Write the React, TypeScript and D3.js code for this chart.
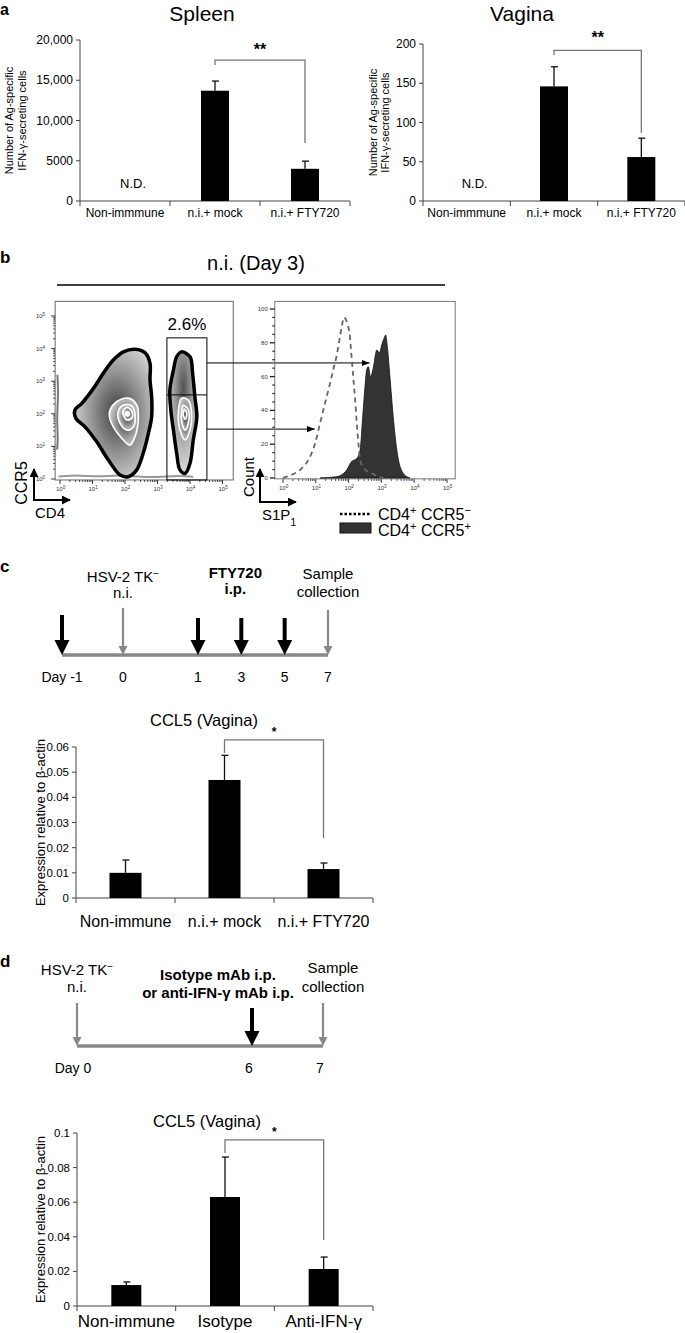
import React from 'react';
import * as d3 from 'd3';

const SANS = "'Liberation Sans', Arial, Helvetica, sans-serif";
const NARROW = "'Liberation Sans Narrow', 'Arial Narrow', 'Liberation Sans', sans-serif";

// ---- a: ELISPOT
const groupsA = ['Non-immmune', 'n.i.+ mock', 'n.i.+ FTY720'];
const notDetected = [true, false, false];
const spleenMean = [0, 13700, 4000];
const spleenSem = [0, 1200, 950];
const spleenTicks = [0, 5000, 10000, 15000, 20000];
const spleenBracket = [17500, 16900, 7200]; // bar level, left leg end, right leg end
const vaginaMean = [0, 146, 56];
const vaginaSem = [0, 25, 24];
const vaginaTicks = [0, 50, 100, 150, 200];
const vaginaBracket = [192, 186, 87];

// ---- b: flow (log10 units)
const cd4NegOuter: [number, number][] = [[0.46, 2.12], [0.67, 2.32], [1.03, 2.78], [1.33, 3.24], [1.64, 3.65], [1.95, 3.9], [2.31, 3.98], [2.62, 3.87], [2.77, 3.55], [2.77, 3.04], [2.82, 2.52], [2.82, 1.91], [2.72, 1.4], [2.56, 0.79], [2.36, 0.28], [2.1, 0.07], [1.85, 0.12], [1.49, 0.58], [1.13, 1.14], [0.77, 1.6], [0.49, 1.86]];
const cd4NegL2: [number, number][] = [[1.54, 2.12], [1.74, 2.37], [2.1, 2.48], [2.36, 2.27], [2.41, 1.86], [2.31, 1.3], [2.15, 1.04], [1.9, 1.25], [1.64, 1.6], [1.52, 1.91]];
const cd4NegL3: [number, number][] = [[1.79, 2.06], [1.95, 2.27], [2.21, 2.24], [2.31, 1.96], [2.26, 1.6], [2.07, 1.5], [1.85, 1.71]];
const cd4NegL4: [number, number][] = [[1.93, 2.06], [2.07, 2.2], [2.22, 2.06], [2.21, 1.86], [2.05, 1.81]];
const cd4PosOuter: [number, number][] = [[3.74, 3.9], [4.0, 3.75], [4.08, 3.24], [4.15, 2.52], [4.21, 1.91], [4.1, 1.2], [4.0, 0.48], [3.85, 0.17], [3.69, 0.28], [3.59, 0.79], [3.49, 1.5], [3.41, 2.12], [3.38, 2.73], [3.49, 3.34], [3.59, 3.75]];
const cd4PosL2: [number, number][] = [[3.74, 2.48], [3.95, 2.42], [4.05, 2.02], [4.0, 1.5], [3.85, 1.2], [3.69, 1.5], [3.64, 2.02]];
const cd4PosL3: [number, number][] = [[3.79, 2.27], [3.95, 2.12], [3.95, 1.71], [3.85, 1.5], [3.74, 1.76], [3.74, 2.06]];
const cd4PosL4: [number, number][] = [[3.83, 2.14], [3.9, 2.02], [3.86, 1.83], [3.79, 1.96]];
const cd4NegPeak: [number, number] = [2.07, 2.0];
const axisEventsBottom: [number, number][] = [[-0.05, 0.08], [0.6, 0.12], [1.2, 0.06], [1.8, 0.13], [2.4, 0.07], [3.0, 0.05], [3.6, 0.11], [4.1, 0.07]];
const axisEventsLeft: [number, number][] = [[-0.08, 3.2], [-0.05, 2.6], [-0.1, 1.9], [-0.06, 1.2], [-0.09, 0.9]];
const gateCD4 = [3.29, 4.52];
const gateCCR5 = [0, 4.33];
const ccr5Split = 2.58;
const arrowFrom = [3.56, 1.53]; // CCR5 level (log) at the gate edge
const arrowTo = [2.64, 0.97]; // S1P1 level (log) in the histogram
const gatePct = '2.6%';
const decades = [0, 1, 2, 3, 4, 5];

const s1p1Neg: [number, number][] = [[0.0, 0], [0.11, 0.8], [0.57, 5.7], [0.77, 10.6], [0.98, 20.5], [1.13, 32.4], [1.28, 44.2], [1.41, 54], [1.53, 63.9], [1.64, 72.8], [1.72, 81.7], [1.79, 89.5], [1.86, 95], [1.96, 91.5], [2.04, 83.6], [2.09, 71.8], [2.14, 59.9], [2.2, 46.2], [2.25, 32.4], [2.3, 20.5], [2.35, 10.6], [2.47, 5.7], [2.7, 2.8], [3.06, 0]];
const s1p1Pos: [number, number][] = [[1.13, 0], [1.64, 0.8], [1.94, 4.7], [2.09, 9.7], [2.25, 11.6], [2.35, 16.6], [2.43, 36.3], [2.5, 54], [2.55, 63.9], [2.6, 65.9], [2.67, 59.9], [2.75, 64.9], [2.86, 75.7], [2.94, 74.1], [3.01, 78.7], [3.08, 82.6], [3.13, 84.6], [3.18, 77.7], [3.26, 59.9], [3.36, 36.3], [3.47, 16.6], [3.57, 6.7], [3.77, 0.8], [3.87, 0]];
const countTicks = [0, 20, 40, 60, 80, 100];

// ---- c: FTY720
const groupsC = ['Non-immune', 'n.i.+ mock', 'n.i.+ FTY720'];
const ccl5FtyMean = [0.01, 0.0469, 0.0115];
const ccl5FtySem = [0.0051, 0.0098, 0.0024];
const ccl5FtyTicks = [0, 0.01, 0.02, 0.03, 0.04, 0.05, 0.06];
const ccl5FtyBracket = [0.0628, 0.0576, 0.0238];
const daysC = [-1, 0, 1, 3, 5, 7];
const dayLabelsC = ['Day -1', '0', '1', '3', '5', '7'];
const ftyDays = [-1, 1, 3, 5];
const greyDaysC = [0, 7];

// ---- d: anti-IFN-g
const groupsD = ['Non-immune', 'Isotype', 'Anti-IFN-γ'];
const ccl5IfnMean = [0.0121, 0.063, 0.0214];
const ccl5IfnSem = [0.0018, 0.0231, 0.0069];
const ccl5IfnTicks = [0, 0.02, 0.04, 0.06, 0.08, 0.1];
const ccl5IfnBracket = [0.096, 0.0884, 0.0381];
const daysD = [0, 6, 7];
const dayLabelsD = ['Day 0', '6', '7'];
const mabDays = [6];
const greyDaysD = [0, 7];

interface BarProps {
  groups: string[];
  means: number[];
  sems: number[];
  ticks: number[];
  max: number;
  fmt: (v: number) => string;
  x0: number; x1: number; yTop: number; yBottom: number;
  barW: number;
  nd?: boolean[];
  title: string; titleX: number; titleY: number; titleSize: number;
  yLabel: string[]; yLabelX: number[]; yLabelSize: number;
  tickSize: number; tickFont: string;
  catSize: number; catY: number; catFont: string;
  bracket: number[]; mark: string; markSize: number; markDy: number;
}

function BarChart(p: BarProps) {
  const x = d3.scaleBand<string>().domain(p.groups).range([p.x0, p.x1]);
  const y = d3.scaleLinear().domain([0, p.max]).range([p.yBottom, p.yTop]);
  const cx = (i: number) => (x(p.groups[i]) ?? 0) + x.bandwidth() / 2;
  const [lvl, lEnd, rEnd] = p.bracket;
  const yMid = (p.yTop + p.yBottom) / 2;
  const edges = [...p.groups.map((g) => x(g) ?? 0), p.x1];
  return (
    <g>
      <text x={p.titleX} y={p.titleY} textAnchor="middle" fontSize={p.titleSize}>{p.title}</text>
      {p.yLabel.map((l, i) => (
        <text key={l} transform={`translate(${p.yLabelX[i]},${yMid}) rotate(-90)`} textAnchor="middle" dy="0.35em" fontSize={p.yLabelSize}>{l}</text>
      ))}
      <line x1={p.x0} x2={p.x0} y1={y(0)} y2={y(p.max)} stroke="#444" />
      {p.ticks.map((t) => (
        <g key={t}>
          <line x1={p.x0 - 4} x2={p.x0} y1={y(t)} y2={y(t)} stroke="#444" />
          <text x={p.x0 - 7} y={y(t)} dy="0.35em" textAnchor="end" fontSize={p.tickSize} fontFamily={p.tickFont}>{p.fmt(t)}</text>
        </g>
      ))}
      <line x1={p.x0} x2={p.x1} y1={y(0)} y2={y(0)} stroke="#444" />
      {edges.map((e, i) => (
        <line key={i} x1={e} x2={e} y1={y(0)} y2={y(0) + 5} stroke="#444" />
      ))}
      {p.groups.map((g, i) => (
        <g key={g}>
          {p.nd && p.nd[i] ? (
            <text x={cx(i) + 8} y={y(0) - 13} textAnchor="middle" fontSize={13}>N.D.</text>
          ) : (
            <>
              <rect x={cx(i) - p.barW / 2} width={p.barW} y={y(p.means[i])} height={y(0) - y(p.means[i])} fill="#000" />
              <line x1={cx(i)} x2={cx(i)} y1={y(p.means[i])} y2={y(p.means[i] + p.sems[i])} stroke="#111" strokeWidth={1.3} />
              <line x1={cx(i) - 3} x2={cx(i) + 4} y1={y(p.means[i] + p.sems[i])} y2={y(p.means[i] + p.sems[i])} stroke="#111" strokeWidth={1.3} />
            </>
          )}
          <text x={cx(i)} y={p.catY} textAnchor="middle" fontSize={p.catSize} fontFamily={p.catFont}>{g}</text>
        </g>
      ))}
      <path d={`M${cx(1)},${y(lEnd)}V${y(lvl)}H${cx(2)}V${y(rEnd)}`} fill="none" stroke="#777" strokeWidth={1.3} />
      <text x={(cx(1) + cx(2)) / 2} y={y(lvl) - p.markDy} textAnchor="middle" fontSize={p.markSize} fontWeight="bold">{p.mark}</text>
    </g>
  );
}

function FlowPanel() {
  const fx = d3.scaleLinear().domain([0, 5]).range([60, 222.5]);
  const fy = d3.scaleLinear().domain([0, 5]).range([479, 316]);
  const hx = d3.scaleLinear().domain([0, 5]).range([283, 447]);
  const hy = d3.scaleLinear().domain([0, 100]).range([478, 309]);
  const contour = d3.line<[number, number]>().x((d) => fx(d[0])).y((d) => fy(d[1])).curve(d3.curveCatmullRomClosed.alpha(0.5));
  const smear = d3.line<[number, number]>().x((d) => fx(d[0])).y((d) => fy(d[1])).curve(d3.curveBasis);
  const area = d3.area<[number, number]>().x((d) => hx(d[0])).y0(hy(0)).y1((d) => hy(d[1])).curve(d3.curveMonotoneX);
  const line = d3.line<[number, number]>().x((d) => hx(d[0])).y((d) => hy(d[1])).curve(d3.curveMonotoneX);
  const minors: number[] = [];
  decades.slice(0, -1).forEach((d) => { for (let k = 2; k < 10; k++) minors.push(d + Math.log10(k)); });
  const fBox = { x0: fx(-0.15), x1: fx(5.33), y0: fy(5.45), y1: fy(-0.03) };
  const hBox = { x0: hx(-0.25), x1: hx(5.25), y0: hy(104.5), y1: hy(-0.5) };
  const countMinor = d3.range(0, 101, 5).filter((v) => v % 20 !== 0);
  const outerLeft = [cd4NegOuter, cd4NegL2, cd4NegL3, cd4NegL4];
  const outerRight = [cd4PosOuter, cd4PosL2, cd4PosL3, cd4PosL4];
  return (
    <g>
      <defs>
        <radialGradient id="zebra" cx="0.55" cy="0.5" r="0.6">
          <stop offset="0" stopColor="#3c3c3c" />
          <stop offset="0.5" stopColor="#8e8e8e" />
          <stop offset="1" stopColor="#d9d9d9" />
        </radialGradient>
        <radialGradient id="zebraTop" cx="0.5" cy="0.3" r="0.7">
          <stop offset="0" stopColor="#505050" />
          <stop offset="0.45" stopColor="#9a9a9a" />
          <stop offset="1" stopColor="#dadada" />
        </radialGradient>
        <marker id="arr" viewBox="0 0 10 10" refX="10" refY="5" markerWidth="8" markerHeight="8" orient="auto" markerUnits="userSpaceOnUse">
          <path d="M0,1L10,5L0,9Z" fill="#000" />
        </marker>
        <marker id="arrBig" viewBox="0 0 10 10" refX="9" refY="5" markerWidth="9" markerHeight="9" orient="auto" markerUnits="userSpaceOnUse">
          <path d="M0,0L10,5L0,10Z" fill="#000" />
        </marker>
      </defs>
      <text x={256} y={270} textAnchor="middle" fontSize={20}>n.i. (Day 3)</text>
      <line x1={57} x2={445} y1={285} y2={285} stroke="#000" strokeWidth={1.6} />

      {/* dot plot */}
      <rect x={fBox.x0} y={fBox.y0} width={fBox.x1 - fBox.x0} height={fBox.y1 - fBox.y0} fill="none" stroke="#666" />
      <path d={smear(axisEventsBottom) ?? ''} fill="none" stroke="#999" strokeWidth={2} />
      <path d={smear(axisEventsLeft) ?? ''} fill="none" stroke="#777" strokeWidth={2} />
      {[outerLeft, outerRight].map((levels, j) => (
        <g key={j}>
          {levels.map((pts, i) => (
            <path key={i} d={contour(pts) ?? ''} fill={i === 0 && j === 1 ? 'url(#zebraTop)' : 'url(#zebra)'}
              stroke={i === 0 ? '#000' : '#fff'} strokeWidth={i === 0 ? 3.5 : 1.6} />
          ))}
        </g>
      ))}
      <circle cx={fx(cd4NegPeak[0])} cy={fy(cd4NegPeak[1])} r={3} fill="#fff" />
      {decades.map((d) => (
        <g key={d} fontSize={6} fill="#333">
          <line x1={fBox.x0} x2={fBox.x0 - 4} y1={fy(d)} y2={fy(d)} stroke="#333" />
          <text x={fBox.x0 - 10} y={fy(d) + 2} textAnchor="end">10<tspan baselineShift="super" fontSize={4.5}>{d}</tspan></text>
          <line x1={fx(d)} x2={fx(d)} y1={fBox.y1} y2={fBox.y1 + 4} stroke="#333" />
          <text x={fx(d) - 4} y={fBox.y1 + 11}>10<tspan baselineShift="super" fontSize={4.5}>{d}</tspan></text>
          <line x1={hx(d)} x2={hx(d)} y1={hBox.y1} y2={hBox.y1 + 4} stroke="#333" />
          <text x={hx(d) - 4} y={hBox.y1 + 11}>10<tspan baselineShift="super" fontSize={4.5}>{d}</tspan></text>
        </g>
      ))}
      {minors.map((m) => (
        <g key={m} stroke="#444">
          <line x1={fBox.x0} x2={fBox.x0 - 2} y1={fy(m)} y2={fy(m)} />
          <line x1={fx(m)} x2={fx(m)} y1={fBox.y1} y2={fBox.y1 + 2} />
          <line x1={hx(m)} x2={hx(m)} y1={hBox.y1} y2={hBox.y1 + 2} />
        </g>
      ))}
      <rect x={fx(gateCD4[0])} y={fy(gateCCR5[1])} width={fx(gateCD4[1]) - fx(gateCD4[0])} height={fy(gateCCR5[0] - 0.03) - fy(gateCCR5[1])} fill="none" stroke="#000" strokeWidth={1} />
      <line x1={fx(gateCD4[0])} x2={fx(gateCD4[1])} y1={fy(ccr5Split)} y2={fy(ccr5Split)} stroke="#000" />
      <text x={(fx(gateCD4[0]) + fx(gateCD4[1])) / 2} y={fy(gateCCR5[1]) - 8} textAnchor="middle" fontSize={17}>{gatePct}</text>
      {arrowFrom.map((a, i) => (
        <line key={i} x1={fx(gateCD4[1])} x2={hx(arrowTo[i])} y1={fy(a)} y2={fy(a)} stroke="#000" strokeWidth={1} markerEnd="url(#arr)" />
      ))}
      {/* CD4 / CCR5 axis arrows */}
      <path d="M34,500V469" stroke="#000" strokeWidth={2} markerEnd="url(#arrBig)" fill="none" />
      <path d="M33,500H70" stroke="#000" strokeWidth={2} markerEnd="url(#arrBig)" fill="none" />
      <text transform="translate(21,483) rotate(-90)" textAnchor="middle" dy="0.35em" fontSize={16}>CCR5</text>
      <text x={50} y={518} textAnchor="middle" fontSize={15}>CD4</text>

      {/* histogram */}
      <rect x={hBox.x0} y={hBox.y0} width={hBox.x1 - hBox.x0} height={hBox.y1 - hBox.y0} fill="none" stroke="#777" />
      <path d={area(s1p1Pos) ?? ''} fill="#333" stroke="#111" strokeWidth={0.8} />
      <path d={line(s1p1Neg) ?? ''} fill="none" stroke="#666" strokeWidth={1.8} strokeDasharray="5,4" />
      {countTicks.map((t) => (
        <g key={t}>
          <line x1={hBox.x0} x2={hBox.x0 - 5} y1={hy(t)} y2={hy(t)} stroke="#222" strokeWidth={1.3} />
          <text x={hBox.x0 - 7} y={hy(t) + 2} textAnchor="end" fontSize={6} fill="#333">{t}</text>
        </g>
      ))}
      {countMinor.map((t) => (
        <line key={t} x1={hBox.x0} x2={hBox.x0 - 2.5} y1={hy(t)} y2={hy(t)} stroke="#222" strokeWidth={1.2} />
      ))}
      <path d="M260,502V469" stroke="#000" strokeWidth={2} markerEnd="url(#arrBig)" fill="none" />
      <path d="M259,502H296" stroke="#000" strokeWidth={2} markerEnd="url(#arrBig)" fill="none" />
      <text transform="translate(249,477) rotate(-90)" textAnchor="middle" dy="0.35em" fontSize={15}>Count</text>
      <text x={262} y={520} fontSize={15}>S1P<tspan baselineShift="sub" fontSize={11}>1</tspan></text>

      {/* legend */}
      <line x1={340} x2={371} y1={514} y2={514} stroke="#000" strokeWidth={2.5} strokeDasharray="2.5,2" />
      <text x={378} y={520} fontSize={16}>
        CD4<tspan baselineShift="super" fontSize={11}>+</tspan>{'  '}CCR5<tspan baselineShift="super" fontSize={11}>−</tspan>
      </text>
      <rect x={340} y={523} width={31} height={10} fill="#333" stroke="#111" />
      <text x={378} y={536} fontSize={16}>
        CD4<tspan baselineShift="super" fontSize={11}>+</tspan>{'  '}CCR5<tspan baselineShift="super" fontSize={11}>+</tspan>
      </text>
    </g>
  );
}

function Arrow({ x, top, tip, black }: { x: number; top: number; tip: number; black: boolean }) {
  const hw = black ? 7.5 : 4.5;
  const hh = black ? 15 : 9;
  const col = black ? '#000' : '#888';
  return (
    <g>
      <line x1={x} x2={x} y1={top} y2={tip - hh + 1} stroke={col} strokeWidth={black ? 4 : 2.2} />
      <path d={`M${x - hw},${tip - hh}L${x + hw},${tip - hh}L${x},${tip}Z`} fill={col} />
    </g>
  );
}

function TimelineC() {
  const x = d3.scaleLinear().domain([-1, 0, 1, 7]).range([62, 123, 198, 328]);
  const yLine = 655;
  return (
    <g fontFamily={NARROW}>
      <line x1={x(-1)} x2={x(7)} y1={yLine} y2={yLine} stroke="#888" strokeWidth={3.5} />
      {greyDaysC.map((d) => <Arrow key={d} x={x(d)} top={d === 0 ? 608 : 610} tip={yLine} black={false} />)}
      {ftyDays.map((d) => <Arrow key={d} x={x(d)} top={d === -1 ? 615 : 618} tip={yLine} black />)}
      {daysC.map((d, i) => (
        <text key={d} x={x(d)} y={682} textAnchor="middle" fontSize={14}>{dayLabelsC[i]}</text>
      ))}
      <text x={x(0)} y={582} textAnchor="middle" fontSize={15}>HSV-2 TK<tspan baselineShift="super" fontSize={10}>−</tspan></text>
      <text x={x(0)} y={598} textAnchor="middle" fontSize={15}>n.i.</text>
      <text x={x(3) - 6} y={578} textAnchor="middle" fontSize={15} fontWeight="bold">FTY720</text>
      <text x={x(3) - 6} y={594} textAnchor="middle" fontSize={15} fontWeight="bold">i.p.</text>
      <text x={x(7)} y={579} textAnchor="middle" fontSize={15}>Sample</text>
      <text x={x(7)} y={597} textAnchor="middle" fontSize={15}>collection</text>
    </g>
  );
}

function TimelineD() {
  const x = d3.scaleLinear().domain([0, 6, 7]).range([77, 252, 323]);
  const yLine = 1046;
  return (
    <g fontFamily={NARROW}>
      <line x1={x(0)} x2={x(7)} y1={yLine} y2={yLine} stroke="#888" strokeWidth={3.5} />
      {greyDaysD.map((d) => <Arrow key={d} x={x(d)} top={1003} tip={yLine} black={false} />)}
      {mabDays.map((d) => <Arrow key={d} x={x(d)} top={1008} tip={yLine} black />)}
      {daysD.map((d, i) => (
        <text key={d} x={x(d) - (i === 0 ? 4 : 3)} y={1073} textAnchor="middle" fontSize={14}>{dayLabelsD[i]}</text>
      ))}
      <text x={x(0)} y={975} textAnchor="middle" fontSize={15}>HSV-2 TK<tspan baselineShift="super" fontSize={10}>−</tspan></text>
      <text x={x(0)} y={992} textAnchor="middle" fontSize={15}>n.i.</text>
      <text x={x(6) - 34} y={980} textAnchor="middle" fontSize={15} fontWeight="bold">Isotype mAb i.p.</text>
      <text x={x(6) - 34} y={998} textAnchor="middle" fontSize={15} fontWeight="bold">or anti-IFN-γ mAb i.p.</text>
      <text x={x(7) + 10} y={973} textAnchor="middle" fontSize={15}>Sample</text>
      <text x={x(7) + 10} y={992} textAnchor="middle" fontSize={15}>collection</text>
    </g>
  );
}

const fmtCount = (v: number) => (v >= 10000 ? d3.format(',')(v) : String(v));
const fmtRatio = (v: number) => (v === 0 ? '0' : String(+v.toFixed(2)));

export default function App() {
  const aCommon = {
    groups: groupsA, nd: notDetected, yBottom: 201, barW: 28,
    titleY: 21, titleSize: 21,
    yLabel: ['Number of Ag-specific', 'IFN-γ-secreting cells'], yLabelSize: 11,
    tickSize: 12, tickFont: SANS, catSize: 12, catY: 217, catFont: SANS, mark: '**', markSize: 16,
  };
  const cdCommon = {
    yLabel: ['Expression relative to β-actin'], yLabelX: [40], yLabelSize: 13,
    tickSize: 11.5, tickFont: NARROW, catFont: NARROW, mark: '*', markSize: 12, markDy: 4,
    title: 'CCL5 (Vagina)', titleSize: 16.5,
  };
  return (
    <svg width={685} height={1333} style={{ position: 'absolute', left: 0, top: 0, background: '#fff' }} fontFamily={SANS}>
      <rect width={685} height={1333} fill="#fff" />
      <text x={0} y={15} fontSize={16} fontWeight="bold">a</text>
      <text x={0} y={263} fontSize={17} fontWeight="bold">b</text>
      <text x={0} y={572} fontSize={17} fontWeight="bold">c</text>
      <text x={0} y={967} fontSize={17} fontWeight="bold">d</text>

      <BarChart {...aCommon} yTop={40} means={spleenMean} sems={spleenSem} ticks={spleenTicks} max={20000} fmt={fmtCount}
        x0={80} x1={350} title="Spleen" titleX={202} yLabelX={[9, 22]} bracket={spleenBracket} markDy={5} />
      <BarChart {...aCommon} yTop={44} means={vaginaMean} sems={vaginaSem} ticks={vaginaTicks} max={200} fmt={(v) => String(v)}
        x0={423} x1={685} title="Vagina" titleX={522} yLabelX={[373, 385]} bracket={vaginaBracket} markDy={7} />

      <FlowPanel />

      <TimelineC />
      <BarChart {...cdCommon} groups={groupsC} means={ccl5FtyMean} sems={ccl5FtySem} ticks={ccl5FtyTicks} max={0.06} fmt={fmtRatio}
        x0={76} x1={373} yTop={747} yBottom={898} barW={32} titleX={204} titleY={726}
        catSize={16} catY={927} bracket={ccl5FtyBracket} />

      <TimelineD />
      <BarChart {...cdCommon} groups={groupsD} means={ccl5IfnMean} sems={ccl5IfnSem} ticks={ccl5IfnTicks} max={0.1} fmt={fmtRatio}
        x0={77} x1={373} yTop={1133} yBottom={1306} barW={30} titleX={207} titleY={1127}
        catSize={17} catY={1327} bracket={ccl5IfnBracket} />
    </svg>
  );
}
